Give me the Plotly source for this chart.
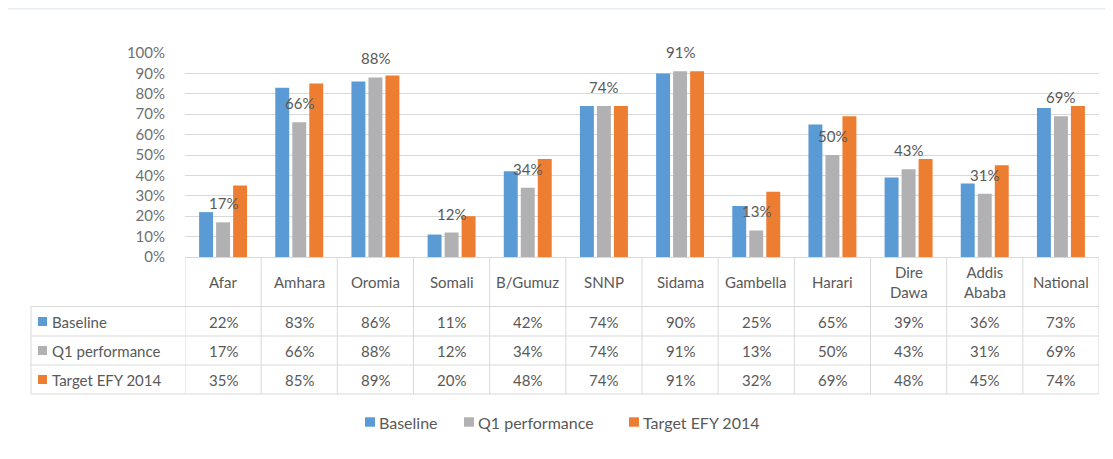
import plotly.graph_objects as go

categories = ["Afar", "Amhara", "Oromia", "Somali", "B/Gumuz", "SNNP", "Sidama",
              "Gambella", "Harari", "Dire Dawa", "Addis Ababa", "National"]
header_labels = ["Afar", "Amhara", "Oromia", "Somali", "B/Gumuz", "SNNP", "Sidama",
                 "Gambella", "Harari", "Dire<br>Dawa", "Addis<br>Ababa", "National"]
series_names = ["Baseline", "Q1 performance", "Target EFY 2014"]
baseline = [22, 83, 86, 11, 42, 74, 90, 25, 65, 39, 36, 73]
q1_performance = [17, 66, 88, 12, 34, 74, 91, 13, 50, 43, 31, 69]
target_efy_2014 = [35, 85, 89, 20, 48, 74, 91, 32, 69, 48, 45, 74]
y_ticks = list(range(0, 101, 10))

colors = ["#5B9BD5", "#B1B1B3", "#ED7D31"]
series_values = [baseline, q1_performance, target_efy_2014]

# page body has an 8px margin; figure is sized/offset to compensate
OFF = 8
W_REF, H_REF = 1113, 459
W, H = W_REF - OFF, H_REF - OFF
L, R, T, B = 185, 1099, 53, 257  # plot area bounds in window pixels
PW, PH = R - L, B - T

def px_x(p):
    return (p - L) / PW

def px_y(p):
    return (B - p) / PH

FONT = "Lato"
TXT = "#595959"
GRID = "#D9D9D9"

xs = list(range(len(categories)))
fig = go.Figure()
for name, vals, col in zip(series_names, series_values, colors):
    fig.add_trace(go.Bar(x=xs, y=vals, name=name, marker=dict(color=col, line=dict(width=0)),
                         hoverinfo="skip", showlegend=False))

shapes = []
annotations = []

# background frame (visible remnant of top strip)
shapes.append(dict(type="rect", xref="paper", yref="paper", x0=px_x(OFF), x1=px_x(W_REF),
                   y0=px_y(9.5), y1=px_y(OFF), fillcolor="#E6ECEF", line=dict(width=0), layer="below"))

# data labels for Q1 performance
for i, v in enumerate(q1_performance):
    annotations.append(dict(x=i, y=v, xref="x", yref="y", text=f"{v}%", showarrow=False,
                            yshift=19, font=dict(family=FONT, size=15, color=TXT)))

# table lines
row_lines = [306.5, 336, 365, 394]
for yy in row_lines:
    shapes.append(dict(type="line", xref="paper", yref="paper", x0=px_x(31), x1=1,
                       y0=px_y(yy), y1=px_y(yy), line=dict(color=GRID, width=1)))
for i in range(len(categories) + 1):
    shapes.append(dict(type="line", xref="x", yref="paper", x0=i - 0.5, x1=i - 0.5,
                       y0=0, y1=px_y(394), line=dict(color=GRID, width=1)))
shapes.append(dict(type="line", xref="paper", yref="paper", x0=px_x(31), x1=px_x(31),
                   y0=px_y(306.5), y1=px_y(394), line=dict(color=GRID, width=1)))

# header row
for i, lab in enumerate(header_labels):
    annotations.append(dict(x=i, y=px_y(282), xref="x", yref="paper", text=lab, showarrow=False,
                            yanchor="middle", font=dict(family=FONT, size=15, color=TXT)))

# value rows
row_centers = [321.5, 350.5, 379.5]
for r, (name, vals, col) in enumerate(zip(series_names, series_values, colors)):
    yc = row_centers[r]
    shapes.append(dict(type="rect", xref="paper", yref="paper", x0=px_x(38), x1=px_x(47),
                       y0=px_y(yc + 4.5), y1=px_y(yc - 4.5), fillcolor=col, line=dict(width=0)))
    annotations.append(dict(x=px_x(50), y=px_y(yc), xref="paper", yref="paper", text=name,
                            showarrow=False, xanchor="left", yanchor="middle",
                            font=dict(family=FONT, size=15, color=TXT)))
    for i, v in enumerate(vals):
        annotations.append(dict(x=i, y=px_y(yc), xref="x", yref="paper", text=f"{v}%",
                                showarrow=False, yanchor="middle",
                                font=dict(family=FONT, size=15, color=TXT)))

# bottom legend
legend_sq_x = [365, 464, 629]
legend_y = 422
for name, col, sx in zip(series_names, colors, legend_sq_x):
    shapes.append(dict(type="rect", xref="paper", yref="paper", x0=px_x(sx), x1=px_x(sx + 10),
                       y0=px_y(legend_y + 4.7), y1=px_y(legend_y - 4.7), fillcolor=col,
                       line=dict(width=0)))
    annotations.append(dict(x=px_x(sx + 12), y=px_y(legend_y), xref="paper", yref="paper",
                            text=name, showarrow=False, xanchor="left", yanchor="middle",
                            font=dict(family=FONT, size=16, color=TXT)))

fig.update_layout(
    width=W, height=H,
    margin=dict(l=L - OFF, r=W - (R - OFF), t=T - OFF, b=H - (B - OFF), pad=0),
    paper_bgcolor="white", plot_bgcolor="white",
    barmode="group", bargap=0.33, bargroupgap=0.18,
    font=dict(family=FONT, size=15, color=TXT),
    showlegend=False,
    xaxis=dict(range=[-0.5, len(categories) - 0.5], showticklabels=False, showgrid=False,
               zeroline=False, showline=True, linecolor=GRID, linewidth=1, fixedrange=True),
    yaxis=dict(range=[0, 100], tickvals=y_ticks, ticktext=[f"{t}%" for t in y_ticks],
               showgrid=True, gridcolor=GRID, gridwidth=1, zeroline=False, showline=False,
               ticks="outside", ticklen=16, tickcolor="rgba(0,0,0,0)",
               tickfont=dict(family=FONT, size=15, color="#6F6F6F")),
    shapes=shapes, annotations=annotations,
)

fig.write_html("out.html")
